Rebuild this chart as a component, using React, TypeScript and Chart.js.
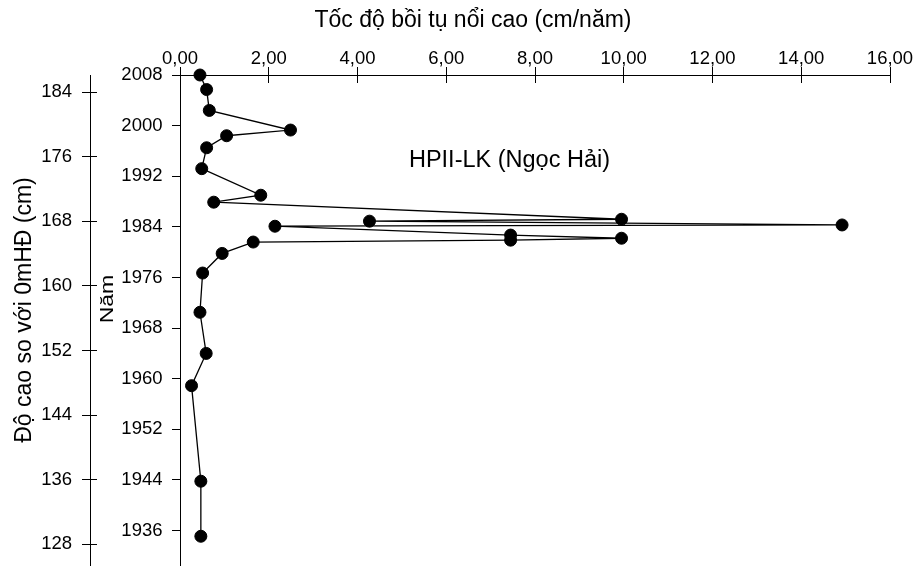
import React, { useEffect, useRef } from 'react';
import { Chart, registerables } from 'chart.js';

Chart.register(...registerables);

// Accretion rate (cm/năm), top to bottom
const rateValues = [0.45, 0.6, 0.66, 2.49, 1.05, 0.6, 0.49, 1.82, 0.76, 9.95, 4.27, 14.92, 2.14, 7.45, 9.95, 7.45, 1.65, 0.95, 0.51, 0.45, 0.59, 0.26, 0.47, 0.47];
// Year of each sample
const yearValues = [2008.0, 2005.7, 2002.4, 1999.3, 1998.4, 1996.5, 1993.2, 1989.0, 1987.9, 1985.2, 1984.9, 1984.3, 1984.1, 1982.7, 1982.2, 1981.9, 1981.6, 1979.8, 1976.7, 1970.5, 1964.0, 1958.9, 1943.8, 1935.1];

const rateTicks = [0, 2, 4, 6, 8, 10, 12, 14, 16];
const yearTicks = [1936, 1944, 1952, 1960, 1968, 1976, 1984, 1992, 2000, 2008];
const heightTicks = [128, 136, 144, 152, 160, 168, 176, 184];

const xTitle = 'Tốc độ bồi tụ nổi cao (cm/năm)';
const yearTitle = 'Năm';
const heightTitle = 'Độ cao so với 0mHĐ (cm)';
const annotationText = 'HPII-LK (Ngọc Hải)';

const FONT = "'Liberation Sans', Arial, Helvetica, sans-serif";

function align(px: number) {
  return Math.round(px - 0.5) + 0.5;
}

export default function App() {
  const ref = useRef<HTMLCanvasElement>(null);

  useEffect(() => {
    document.body.style.margin = '0';
    const canvas = ref.current;
    if (!canvas) return;

    const textPlugin = {
      id: 'customText',
      afterDraw(chart: any) {
        const ctx = chart.ctx as CanvasRenderingContext2D;
        const area = chart.chartArea;
        const xs = chart.scales.x;
        const y2 = chart.scales.y2;
        ctx.save();
        // inner halves of crossing ticks
        ctx.strokeStyle = '#000';
        ctx.lineWidth = 1;
        ctx.beginPath();
        for (const v of rateTicks) {
          const px = align(xs.getPixelForValue(v));
          ctx.moveTo(px, area.top);
          ctx.lineTo(px, area.top + 8);
        }
        for (const v of heightTicks) {
          const py = align(y2.getPixelForValue(v));
          ctx.moveTo(y2.right, py);
          ctx.lineTo(y2.right + 7, py);
        }
        ctx.stroke();

        ctx.fillStyle = '#000';
        ctx.textAlign = 'center';
        ctx.font = `23px ${FONT}`;
        ctx.textBaseline = 'middle';
        ctx.fillText(xTitle, 473, 21);

        ctx.font = `23.5px ${FONT}`;
        ctx.textBaseline = 'alphabetic';
        ctx.fillText(annotationText, 509.5, 166.5);

        ctx.save();
        ctx.translate(25, 310);
        ctx.rotate(-Math.PI / 2);
        ctx.font = `23px ${FONT}`;
        ctx.textBaseline = 'middle';
        ctx.fillText(heightTitle, 0, 0);
        ctx.restore();

        ctx.save();
        ctx.translate(113, 299);
        ctx.rotate(-Math.PI / 2);
        ctx.scale(1, 0.8);
        ctx.font = `23px ${FONT}`;
        ctx.textBaseline = 'alphabetic';
        ctx.fillText(yearTitle, 0, 0);
        ctx.restore();

        ctx.restore();
      },
    };

    const tickFont = { family: FONT, size: 18.5, lineHeight: 1 };

    const chart = new Chart(canvas, {
      type: 'scatter',
      data: {
        datasets: [
          {
            data: rateValues.map((x, i) => ({ x, y: yearValues[i] })),
            xAxisID: 'x',
            yAxisID: 'y',
            showLine: true,
            borderColor: '#000',
            borderWidth: 1.3,
            pointRadius: 6,
            pointHoverRadius: 6,
            pointBackgroundColor: '#000',
            pointBorderColor: '#000',
            pointBorderWidth: 1,
            tension: 0,
            clip: false,
          } as any,
        ],
      },
      options: {
        animation: false,
        responsive: false,
        devicePixelRatio: 1,
        layout: { autoPadding: false, padding: { top: 0, left: 0, right: 23, bottom: 0 } },
        plugins: { legend: { display: false }, tooltip: { enabled: false }, title: { display: false } },
        scales: {
          x: {
            type: 'linear',
            position: 'top',
            min: 0,
            max: 16,
            afterBuildTicks: (s: any) => {
              s.ticks = rateTicks.map((v) => ({ value: v }));
            },
            afterFit: (s: any) => {
              s.height = 75;
              s.paddingLeft = 0;
              s.paddingRight = 0;
            },
            ticks: {
              color: '#000',
              font: tickFont,
              padding: -1.5,
              maxRotation: 0,
              autoSkip: false,
              callback: (v: any) => Number(v).toFixed(2).replace('.', ','),
            },
            grid: { drawOnChartArea: false, tickLength: 8, color: '#000', lineWidth: 1 },
            border: { color: '#000', width: 1 },
          },
          y: {
            type: 'linear',
            position: 'left',
            weight: 0,
            min: 1930.4,
            max: 2008,
            afterBuildTicks: (s: any) => {
              s.ticks = yearTicks.map((v) => ({ value: v }));
            },
            afterFit: (s: any) => {
              s.width = 90;
              s.paddingTop = 0;
              s.paddingBottom = 0;
            },
            ticks: {
              color: '#000',
              font: tickFont,
              padding: 9.5,
              autoSkip: false,
              callback: (v: any) => String(v),
            },
            grid: { drawOnChartArea: false, tickLength: 8, color: '#000', lineWidth: 1 },
            border: { color: '#000', width: 1 },
          },
          y2: {
            type: 'linear',
            position: 'left',
            weight: 1,
            min: 125.3,
            max: 186.14,
            afterBuildTicks: (s: any) => {
              s.ticks = heightTicks.map((v) => ({ value: v }));
            },
            afterFit: (s: any) => {
              s.width = 90;
              s.paddingTop = 0;
              s.paddingBottom = 0;
            },
            ticks: {
              color: '#000',
              font: tickFont,
              padding: 10,
              autoSkip: false,
              callback: (v: any) => String(v),
            },
            grid: { drawOnChartArea: false, tickLength: 8, color: '#000', lineWidth: 1 },
            border: { color: '#000', width: 1 },
          },
        },
      } as any,
      plugins: [textPlugin],
    });

    return () => {
      chart.destroy();
    };
  }, []);

  return (
    <div style={{ width: 913, height: 566, position: 'relative' }}>
      <canvas ref={ref} width={913} height={566} style={{ display: 'block' }} />
    </div>
  );
}
